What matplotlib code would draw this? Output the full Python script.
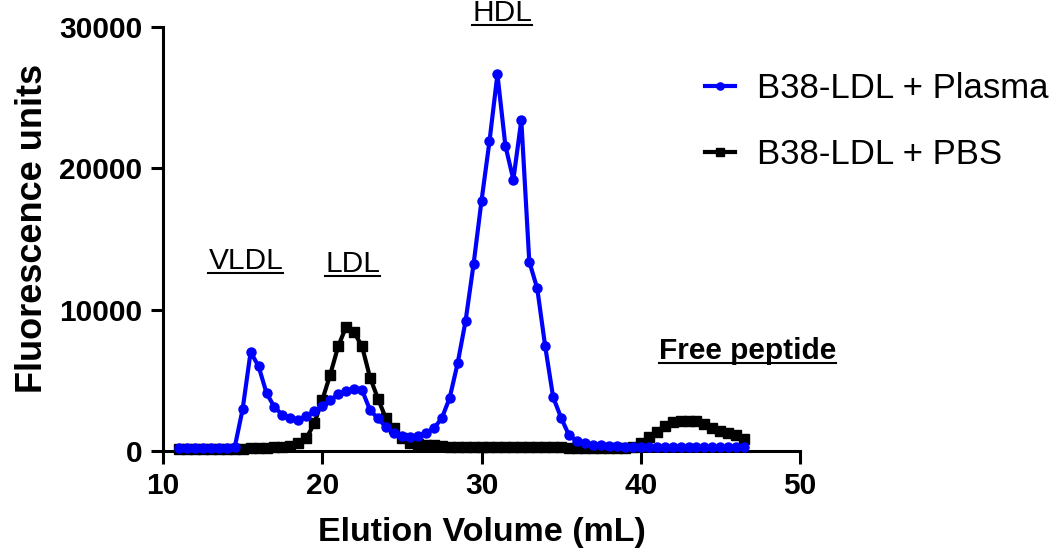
import matplotlib
matplotlib.use("Agg")
import matplotlib.pyplot as plt
import numpy as np
from matplotlib.lines import Line2D

plt.rcParams["font.family"] = ["Liberation Sans", "DejaVu Sans"]

# 溶出量 (mL)
elution_ml = np.arange(11.0, 47.0, 0.5)

# B38-LDL + Plasma (蛍光値), 8点ごと
plasma = [
    200, 200, 200, 200, 200, 200, 200, 250,          # 11.0 - 14.5
    2950, 7000, 6000, 4100, 3100, 2550, 2300, 2200,  # 15.0 - 18.5
    2450, 2800, 3200, 3600, 4000, 4250, 4400, 4300,  # 19.0 - 22.5
    2900, 2300, 1700, 1300, 1050, 970, 1050, 1300,   # 23.0 - 26.5
    1600, 2300, 3750, 6200, 9200, 13200, 17700, 21900,  # 27.0 - 30.5
    26650, 21600, 19200, 23400, 13400, 11500, 7400, 3800,  # 31.0 - 34.5
    2350, 1100, 700, 550, 450, 400, 350, 320,        # 35.0 - 38.5
    300, 300, 300, 300, 300, 300, 300, 300,          # 39.0 - 42.5
    290, 290, 290, 290, 280, 280, 280, 280,          # 43.0 - 46.5
]

# B38-LDL + PBS (蛍光値), 8点ごと
pbs = [
    150, 150, 150, 150, 150, 150, 150, 160,          # 11.0 - 14.5
    170, 180, 200, 230, 260, 300, 350, 550,          # 15.0 - 18.5
    900, 1950, 3600, 5400, 7400, 8800, 8400, 7400,   # 19.0 - 22.5
    5200, 3700, 2300, 1600, 900, 600, 500, 450,      # 23.0 - 26.5
    400, 350, 300, 280, 260, 250, 250, 250,          # 27.0 - 30.5
    250, 250, 250, 250, 250, 250, 280, 300,          # 31.0 - 34.5
    280, 240, 220, 200, 200, 200, 200, 200,          # 35.0 - 38.5
    220, 300, 600, 1000, 1350, 1800, 2050, 2100,     # 39.0 - 42.5
    2150, 2100, 1900, 1650, 1450, 1250, 1100, 850,   # 43.0 - 46.5
]

series_labels = ["B38-LDL + Plasma", "B38-LDL + PBS"]

# ピーク名ラベル (x, y, テキスト, 太字)
peak_labels = [
    (15.2, 12900, "VLDL", False),
    (21.9, 12700, "LDL", False),
    (31.3, 30400, "HDL", False),
    (46.7, 6500, "Free peptide", True),
]

fig = plt.figure(figsize=(10.5, 5.59), dpi=100)
ax = fig.add_axes([163 / 1050, 1 - 451 / 559, (800 - 163) / 1050, (451 - 27) / 559])

ax.plot(elution_ml, plasma, color="#0000ff", lw=3.0, marker="o", ms=6.5,
        label=series_labels[0], clip_on=False, zorder=3)
ax.plot(elution_ml, pbs, color="black", lw=3.0, marker="s", ms=6.5,
        label=series_labels[1], clip_on=False, zorder=2)

ax.set_xlim(10, 50)
ax.set_ylim(0, 30000)
ax.set_xticks([10, 20, 30, 40, 50])
ax.set_yticks([0, 10000, 20000, 30000])

for side in ["top", "right"]:
    ax.spines[side].set_visible(False)
for side in ["left", "bottom"]:
    ax.spines[side].set_linewidth(2.2)

ax.tick_params(axis="both", direction="out", length=9, width=2.2,
               labelsize=21.5, pad=6)
for lab in ax.get_xticklabels() + ax.get_yticklabels():
    lab.set_fontweight("bold")

ax.set_xlabel("Elution Volume (mL)", fontsize=24.5, fontweight="bold", labelpad=12)
ax.set_ylabel("Fluorescence units", fontsize=26, fontweight="bold")
ax.yaxis.set_label_coords(-0.177, 0.526)

leg = ax.legend(loc="upper left", bbox_to_anchor=(705 / 1050, 1 - 72 / 559),
                bbox_transform=fig.transFigure, frameon=False, fontsize=25,
                handlelength=0.85, handletextpad=0.65, labelspacing=0.95,
                borderaxespad=0, borderpad=0, markerscale=0.8)

texts = []
for x, y, s, bold in peak_labels:
    t = ax.text(x, y, s, ha="center", va="baseline", fontsize=21.5,
                fontweight="bold" if bold else "normal", clip_on=False)
    texts.append((t, x, y))

# 下線を描画
fig.canvas.draw()
renderer = fig.canvas.get_renderer()
inv = fig.transFigure.inverted()
for t, x, y in texts:
    bb = t.get_window_extent(renderer)
    base_y = ax.transData.transform((x, y))[1] - 4
    p0 = inv.transform((bb.x0, base_y))
    p1 = inv.transform((bb.x1, base_y))
    fig.add_artist(Line2D([p0[0], p1[0]], [p0[1], p1[1]], color="black",
                          lw=1.5, transform=fig.transFigure))

fig.savefig("out.png", dpi=100)
